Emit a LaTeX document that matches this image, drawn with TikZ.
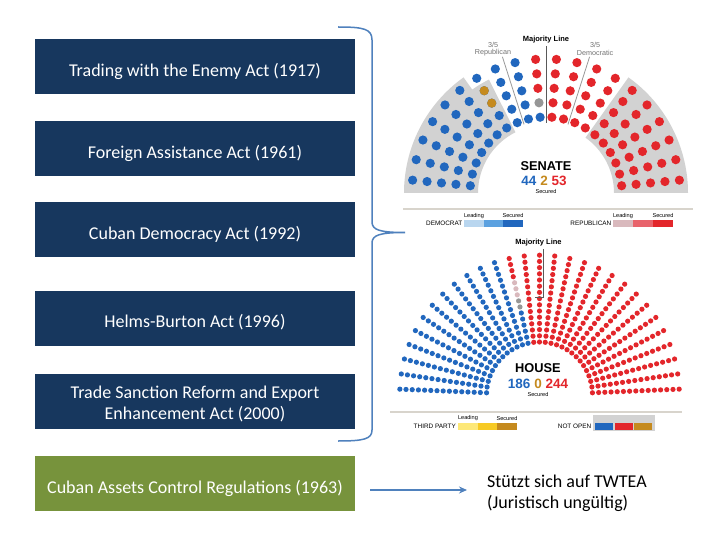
\documentclass[tikz,border=0pt]{standalone}
\usepackage{fontspec}
\setmainfont{Carlito}
\newfontfamily\chartfont{Liberation Sans}
\usetikzlibrary{arrows.meta}
\definecolor{boxblue}{RGB}{23,55,94}
\definecolor{boxgreen}{RGB}{119,147,60}
\definecolor{accent}{RGB}{79,129,189}
\definecolor{sblue}{RGB}{33,103,190}
\definecolor{sred}{RGB}{227,38,43}
\definecolor{sgold}{RGB}{197,138,30}
\definecolor{sgray}{RGB}{150,150,150}
\definecolor{spink}{RGB}{217,185,189}
\definecolor{bggray}{RGB}{210,210,210}
\definecolor{sepline}{RGB}{216,212,204}
\definecolor{lblue}{RGB}{185,214,239}
\definecolor{mblue}{RGB}{91,161,224}
\definecolor{mred}{RGB}{232,99,107}
\definecolor{lyellow}{RGB}{253,232,120}
\definecolor{myellow}{RGB}{247,202,36}
\newcommand\sseat[3]{\fill[#3] ({546+(76+14.5*#2)*cos(174.5-8.895*#1)},{-193+(76+14.5*#2)*sin(174.5-8.895*#1)}) circle (4.6pt);}
\newcommand\hseat[3]{\fill[#3] ({539.5+(53+6.2*#2)*cos(177.6-6.257*#1)},{-395+(53+6.2*#2)*sin(177.6-6.257*#1)}) circle (2.6pt);}
\begin{document}
\begin{tikzpicture}[x=1pt,y=1pt,
  actbox/.style={fill=boxblue, minimum width=320pt, minimum height=55pt, inner sep=0pt},
  regbox/.style={actbox, fill=boxgreen},
  boxtxt/.style={text=white, inner sep=0pt, align=center, font=\fontsize{18}{21}\selectfont},
  accentline/.style={draw=accent, line width=1.5pt},
  tiny/.style={font=\chartfont\fontsize{5.6}{6}\selectfont, inner sep=0pt},
  legtxt/.style={font=\chartfont\fontsize{6.4}{7}\selectfont, inner sep=0pt, anchor=east},
  bigtxt/.style={font=\chartfont\bfseries\fontsize{12.8}{14}\selectfont, inner sep=0pt},
  numtxt/.style={font=\chartfont\bfseries\fontsize{13.5}{15}\selectfont, inner sep=0pt},
  thirdtxt/.style={font=\chartfont\fontsize{7.2}{7.7}\selectfont, inner sep=0pt, align=center, text=black!55},
  majtxt/.style={font=\chartfont\bfseries\fontsize{7.5}{8}\selectfont, inner sep=0pt}
]
\useasboundingbox (0,0) rectangle (720,-540);
\fill[white] (0,0) rectangle (720,-540);

% left boxes
\node[actbox] (b1) at (195,-66.5) {};
\node[actbox] (b2) at (195,-149) {};
\node[actbox] (b3) at (195,-229.5) {};
\node[actbox] (b4) at (195,-318) {};
\node[actbox] (b5) at (195,-401) {};
\node[regbox] (green) at (195,-483.5) {};
\node[boxtxt] (t1) at ([yshift=-4.5pt]b1.center) {Trading with the Enemy Act (1917)};
\node[boxtxt] (t2) at ([yshift=-4.5pt]b2.center) {Foreign Assistance Act (1961)};
\node[boxtxt] (t3) at ([yshift=-4.5pt]b3.center) {Cuban Democracy Act (1992)};
\node[boxtxt] (t4) at ([yshift=-4.5pt]b4.center) {Helms-Burton Act (1996)};
\node[boxtxt] (t5) at ([yshift=-3pt]b5.center) {Trade Sanction Reform and Export\\Enhancement Act (2000)};
\node[boxtxt] (t6) at ([yshift=-4.5pt]green.center) {Cuban Assets Control Regulations (1963)};

% brace
\draw[accentline] (338,-27) .. controls (364,-27) and (372,-29) .. (372,-40) -- (372,-222)
  .. controls (372,-230) and (380,-232.5) .. (405,-232.5)
  .. controls (380,-232.5) and (372,-235) .. (372,-243) -- (372,-430)
  .. controls (372,-439) and (364,-441) .. (338,-441);

% arrow and text
\node[anchor=west, align=left, inner sep=0pt, font=\fontsize{18}{21}\selectfont] (txt) at (487,-493) {Stützt sich auf TWTEA\\(Juristisch ungültig)};
\draw[accentline, -{Stealth[length=8pt,width=7pt]}] ([xshift=15pt]green.east |- 0,-490) -- ([xshift=-20pt]txt.west |- 0,-490);

% ===== SENATE =====
\fill[bggray] (404,-193) arc[start angle=180, end angle=125.5, radius=142pt]
  -- ({546+127*cos(125.5)},{-193+127*sin(125.5)}) arc[start angle=125.5, end angle=116.7, radius=127pt]
  -- ({546+68*cos(116.7)},{-193+68*sin(116.7)}) arc[start angle=116.7, end angle=180, radius=68pt] -- cycle;
\fill[bggray] (688,-193) arc[start angle=0, end angle=54.5, radius=142pt]
  -- ({546+68*cos(54.5)},{-193+68*sin(54.5)}) arc[start angle=54.5, end angle=0, radius=68pt] -- cycle;
\foreach \k in {0,...,8}{\foreach \j in {0,...,4}{\sseat{\k}{\j}{sblue}}}
\sseat{6}{2}{sgold}\sseat{6}{3}{sgold}
\sseat{9}{0}{sblue}\sseat{9}{1}{sgray}
\foreach \j in {2,3,4}{\sseat{9}{\j}{sred}}
\foreach \k in {10,...,19}{\foreach \j in {0,...,4}{\sseat{\k}{\j}{sred}}}
\draw[black!40, line width=0.8pt] ({546+72*cos(107.75)},{-193+72*sin(107.75)}) -- ({546+143*cos(107.75)},{-193+143*sin(107.75)});
\draw[black!40, line width=0.8pt] ({546+72*cos(72.25)},{-193+72*sin(72.25)}) -- ({546+143*cos(72.25)},{-193+143*sin(72.25)});
\draw[black!65, line width=1pt] (546,-46) -- (546,-123);
\node[thirdtxt] (rep) at (493,-49) {3/5\\Republican};
\node[thirdtxt] (dem) at (595,-49) {3/5\\Democratic};
\node[majtxt] (smaj) at (546,-40) {Majority Line};
\node[bigtxt] (sen) at (546,-166) {SENATE};
\node[numtxt] (snum) at (544,-180.5) {\textcolor{sblue}{44} \textcolor{sgold}{2} \textcolor{sred}{53}};
\node[tiny] (ssec) at (546,-191.5) {Secured};
\draw[sepline, line width=1.5pt] (403,-209) -- (693,-209);
\node[legtxt] (ldem) at (462.5,-223.5) {DEMOCRAT};
\fill[lblue] (464,-220) rectangle (484,-227);
\fill[mblue] (484,-220) rectangle (503,-227);
\fill[sblue] (503,-220) rectangle (523,-227);
\node[tiny] (dl) at (474,-215.8) {Leading};
\node[tiny] (ds) at (513,-215.8) {Secured};
\node[legtxt] (lrep) at (611.5,-223.5) {REPUBLICAN};
\fill[spink] (613,-220) rectangle (633,-227);
\fill[mred] (633,-220) rectangle (653,-227);
\fill[sred] (653,-220) rectangle (673,-227);
\node[tiny] (rl) at (623,-215.8) {Leading};
\node[tiny] (rs) at (663,-215.8) {Secured};

% ===== HOUSE =====
\foreach \k in {0,...,11}{\foreach \j in {0,...,14}{\hseat{\k}{\j}{sblue}}}
\foreach \j in {0,...,5}{\hseat{12}{\j}{sblue}}
\foreach \j in {6,7}{\hseat{12}{\j}{sgray}}
\foreach \j in {8,9,10}{\hseat{12}{\j}{spink}}
\foreach \j in {11,...,14}{\hseat{12}{\j}{sred}}
\foreach \k in {13,...,28}{\foreach \j in {0,...,14}{\hseat{\k}{\j}{sred}}}
\draw[black!65, line width=1pt] (543.5,-249) -- (543.5,-297) -- (535,-297);
\node[majtxt] (hmaj) at (538.5,-243) {Majority Line};
\node[bigtxt] (hou) at (538,-368) {HOUSE};
\node[numtxt] (hnum) at (538,-383.5) {\textcolor{sblue}{186} \textcolor{sgold}{0} \textcolor{sred}{244}};
\node[tiny] (hsec) at (538,-394.5) {Secured};
\draw[sepline, line width=1.5pt] (390,-412) -- (682,-412);
\node[legtxt] (ltp) at (456,-426.5) {THIRD PARTY};
\fill[lyellow] (458,-423) rectangle (478,-429.5);
\fill[myellow] (478,-423) rectangle (497,-429.5);
\fill[sgold] (497,-423) rectangle (517,-429.5);
\node[tiny] (tl) at (468,-418) {Leading};
\node[tiny] (ts) at (507,-418) {Secured};
\node[legtxt] (lno) at (591.5,-426.5) {NOT OPEN};
\fill[bggray] (593,-415) rectangle (655,-430.5);
\fill[sblue] (594.5,-423) rectangle (613,-429.5);
\fill[sred] (614.5,-423) rectangle (632.5,-429.5);
\fill[sgold] (634,-423) rectangle (652,-429.5);
\end{tikzpicture}
\end{document}
